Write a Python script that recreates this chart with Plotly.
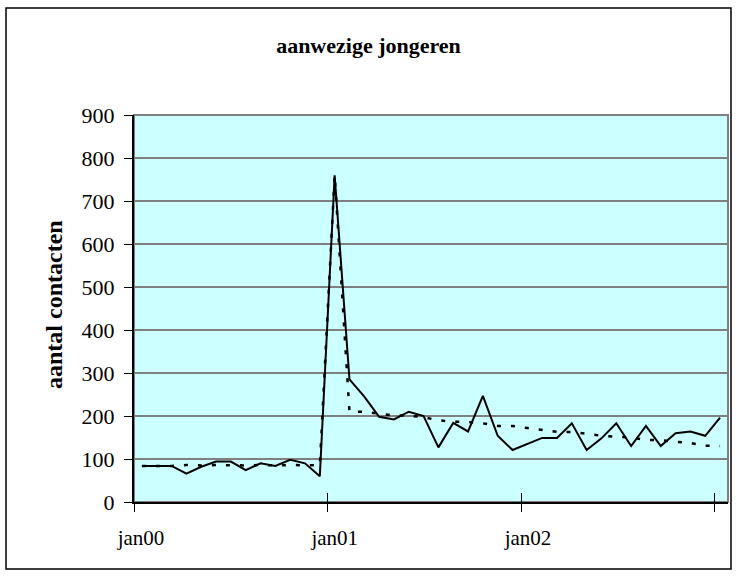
import plotly.graph_objects as go

# 4-weekly periods (dates of each period)
dates = [
    "2000-01-16", "2000-02-13", "2000-03-12", "2000-04-09", "2000-05-07",
    "2000-06-04", "2000-07-02", "2000-07-30", "2000-08-27", "2000-09-24",
    "2000-10-22", "2000-11-19", "2000-12-17", "2001-01-14", "2001-02-11",
    "2001-03-11", "2001-04-08", "2001-05-06", "2001-06-03", "2001-07-01",
    "2001-07-29", "2001-08-26", "2001-09-23", "2001-10-21", "2001-11-18",
    "2001-12-16", "2002-01-13", "2002-02-10", "2002-03-10", "2002-04-07",
    "2002-05-05", "2002-06-02", "2002-06-30", "2002-07-28", "2002-08-25",
    "2002-09-22", "2002-10-20", "2002-11-17", "2002-12-15", "2003-01-12",
]

aanwezig = [84, 84, 84, 66, 82, 94, 94, 74, 90, 84, 98, 90, 60,
            760, 285, 245, 198, 192, 210, 200,
            127, 184, 164, 247, 154, 121,
            135, 149, 149, 183, 121, 148,
            183, 130, 177, 130, 160, 164,
            154, 196]

trend = [84, 84, 84, 86, 85, 86, 85, 85, 86, 85, 86, 85, 85,
         760, 210, 210, 206, 201, 201, 197,
         190, 187, 186, 183, 177, 177,
         172, 167, 163, 163, 158, 154,
         152, 150, 144, 144, 140, 137,
         131, 130]

tick_dates = ["2000-01-01", "2001-01-01", "2002-01-01", "2003-01-01"]
tick_text = ["jan00", "jan01", "jan02", ""]
y_ticks = [0, 100, 200, 300, 400, 500, 600, 700, 800, 900]

x_range = ["2000-01-01", "2003-01-27"]
FONT = "Liberation Serif, Times New Roman, serif"

fig = go.Figure()
fig.add_trace(go.Scatter(
    x=dates, y=trend, mode="lines", xaxis="x2", yaxis="y",
    line=dict(color="black", width=2.5, dash="4px,10px"),
    showlegend=False, name="trend"))
fig.add_trace(go.Scatter(
    x=dates, y=aanwezig, mode="lines",
    line=dict(color="black", width=2),
    showlegend=False, name="aanwezige jongeren"))

fig.update_layout(
    width=736, height=576,
    margin=dict(l=134, r=8, t=115, b=74, pad=0),
    paper_bgcolor="white",
    plot_bgcolor="#CCFFFF",
    font=dict(family=FONT, color="black"),
    title=dict(text="<b>aanwezige jongeren</b>", x=368.5 / 736, xref="container",
               xanchor="center", y=1 - 45 / 576, yref="container",
               yanchor="middle",
               font=dict(family=FONT, size=22, color="black")),
    xaxis=dict(
        type="date", range=x_range,
        tickmode="array", tickvals=tick_dates, ticktext=tick_text,
        ticks="outside", ticklen=8, tickwidth=1, tickcolor="black",
        showline=True, linecolor="black", linewidth=2,
        showgrid=False, zeroline=False,
        tickfont=dict(family=FONT, size=21, color="black"),
        ticklabelshift=7, ticklabelstandoff=8,
    ),
    xaxis2=dict(
        type="date", range=x_range, overlaying="x", anchor="y",
        tickmode="array", tickvals=tick_dates,
        ticks="inside", ticklen=9, tickwidth=1, tickcolor="black",
        showticklabels=False, showline=False, showgrid=False, zeroline=False,
    ),
    yaxis=dict(
        range=[0, 900], tickmode="array", tickvals=y_ticks,
        ticks="outside", ticklen=8, tickwidth=1, tickcolor="black",
        showline=True, linecolor="black", linewidth=2,
        showgrid=True, gridcolor="#7f7f7f", gridwidth=1.5,
        zeroline=False,
        tickfont=dict(family=FONT, size=22, color="black"),
        ticklabelstandoff=5,
    ),
    annotations=[dict(
        text="<b>aantal contacten</b>", textangle=-90,
        xref="paper", yref="paper",
        x=(54 - 134) / 594, y=(502 - 305) / 387,
        xanchor="center", yanchor="middle", showarrow=False,
        font=dict(family=FONT, size=24, color="black"),
    )],
    shapes=[
        # plot-area border (grey)
        dict(type="rect", xref="paper", yref="paper", x0=0, x1=1, y0=0, y1=1,
             line=dict(color="#7f7f7f", width=2), layer="below"),
        # outer chart border
        dict(type="rect", xref="paper", yref="paper",
             x0=(6 - 134) / 594, x1=(731 - 134) / 594,
             y0=(502 - 569) / 387, y1=(502 - 8) / 387,
             line=dict(color="black", width=1.5)),
    ],
)

fig.write_html("out.html", config={"displayModeBar": False},
               post_script="document.body.style.margin='0px';")
